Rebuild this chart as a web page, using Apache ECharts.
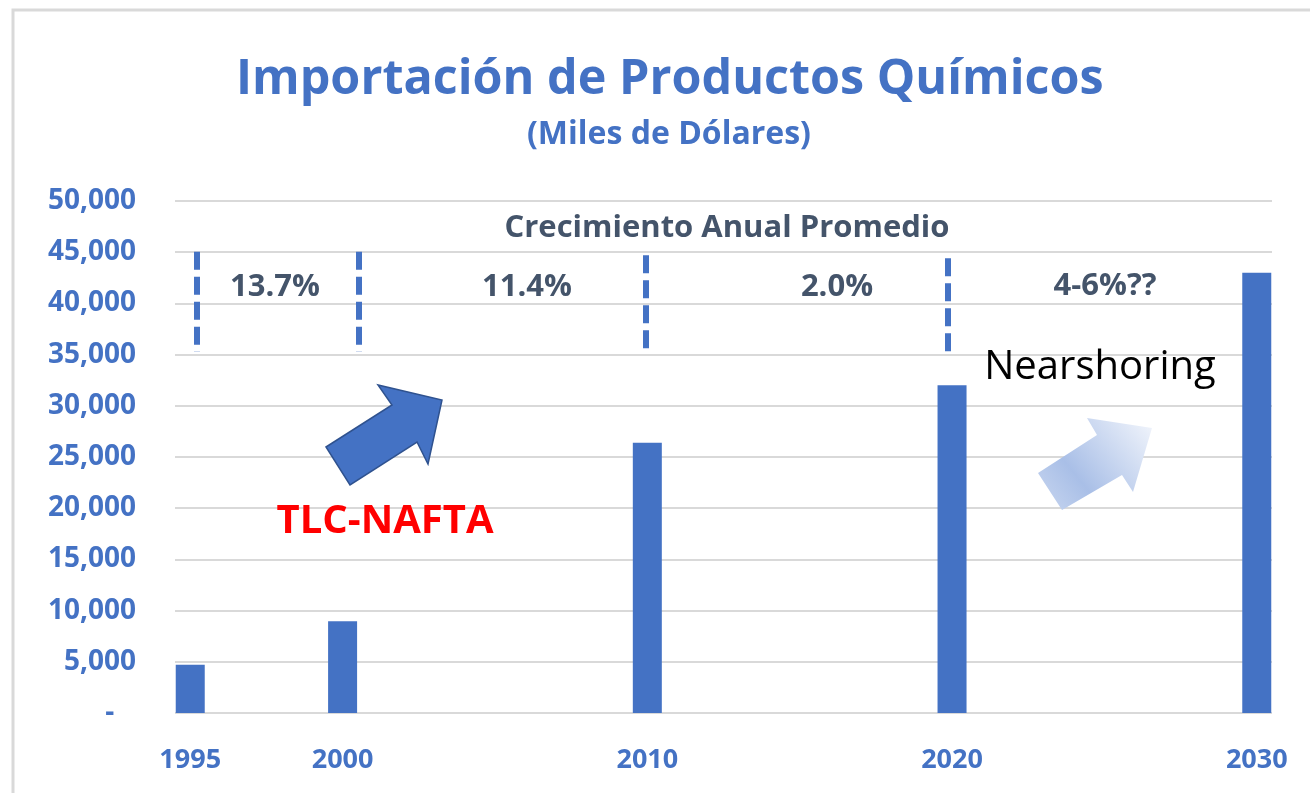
<!DOCTYPE html>
<html>
<head>
<meta charset="utf-8">
<script src="https://cdn.jsdelivr.net/npm/echarts@6/dist/echarts.min.js"></script>
<style>
  html, body { margin: 0; padding: 0; background: #fff; }
  #chart { width: 1310px; height: 793px; }
</style>
</head>
<body>
<div id="chart"></div>
<script>
// datos
const years = [1995, 2000, 2010, 2020, 2030]
const imports = [4700, 8950, 26400, 32000, 43000]
const yTicks = { min: 0, max: 50000, interval: 5000 }

// crecimiento anual promedio por periodo
const growthLabels = ['13.7%', '11.4%', '2.0%', '4-6%??']
const dividerYears = [1995.22, 2000.54, 2009.94, 2019.87]
const dividerTop = [45050, 45050, 44700, 44400]
const dividerBottom = [35250, 35250, 35150, 34700]

const blue = '#4472C4'
const slate = '#44546A'
const font = '"Open Sans", "Noto Sans", sans-serif'

let chart = echarts.init(document.getElementById('chart'))

let dividerLines = []
for (let i = 0; i < dividerYears.length; i++) {
  dividerLines.push([
    { coord: [dividerYears[i], dividerTop[i]] },
    { coord: [dividerYears[i], dividerBottom[i]] }
  ])
}

function label (text, x, y, size) {
  return {
    type: 'text',
    z: 100,
    x: x,
    y: y,
    style: {
      text: text,
      fill: slate,
      font: 'bold ' + size + 'px ' + font,
      textAlign: 'center',
      textVerticalAlign: 'middle'
    }
  }
}

let option = {
  backgroundColor: '#fff',
  animation: false,
  title: [{
    text: 'Importación de Productos Químicos',
    left: 236,
    top: 56,
    padding: 0,
    textStyle: { color: blue, fontSize: 48.5, fontWeight: 'bold', fontFamily: font }
  }, {
    text: '(Miles de Dólares)',
    left: 527,
    top: 119,
    padding: 0,
    textStyle: { color: blue, fontSize: 32, fontWeight: 'bold', fontFamily: font }
  }],
  grid: {
    left: 175,
    right: 38,
    top: 201,
    bottom: 80
  },
  xAxis: {
    type: 'value',
    min: 1994.5,
    max: 2030.5,
    splitLine: { show: false },
    axisLine: { show: false },
    axisTick: { show: false },
    axisLabel: {
      customValues: years,
      margin: 34,
      color: blue,
      fontSize: 27,
      fontWeight: 'bold',
      fontFamily: font,
      formatter: function (v) {
        return String(v)
      }
    }
  },
  yAxis: {
    type: 'value',
    min: yTicks.min,
    max: yTicks.max,
    interval: yTicks.interval,
    axisLine: { show: false },
    axisTick: { show: false },
    splitLine: { lineStyle: { color: '#D9D9D9', width: 2 } },
    axisLabel: {
      margin: 39,
      color: blue,
      fontSize: 28,
      fontWeight: 'bold',
      fontFamily: font,
      formatter: function (v) {
        return v === 0 ? '-   ' : v.toLocaleString('en-US')
      }
    }
  },
  series: [{
    type: 'bar',
    barWidth: 29,
    itemStyle: { color: blue },
    data: years.map((y, i) => [y, imports[i]]),
    markLine: {
      silent: true,
      symbol: 'none',
      label: { show: false },
      lineStyle: { color: blue, width: 6, type: [18, 7] },
      data: dividerLines
    }
  }],
  graphic: [
    {
      type: 'rect',
      z: -10,
      shape: { x: 13, y: 10, width: 1400, height: 900 },
      style: { fill: 'none', stroke: '#D9D9D9', lineWidth: 3 }
    },
    label('Crecimiento Anual Promedio', 727, 228, 31),
    label(growthLabels[0], 275, 287, 31),
    label(growthLabels[1], 527, 287, 31),
    label(growthLabels[2], 837, 287, 31),
    label(growthLabels[3], 1105, 286, 31),
    {
      // flecha TLC-NAFTA
      type: 'polygon',
      z: 100,
      shape: {
        points: [[326, 447], [392, 405], [378, 385], [442, 400], [428, 464], [417, 442], [350, 485]]
      },
      style: { fill: blue, stroke: '#2F528F', lineWidth: 1.5 }
    },
    {
      type: 'text',
      z: 100,
      x: 385,
      y: 522,
      style: {
        text: 'TLC-NAFTA',
        fill: '#FF0000',
        font: 'bold 40px ' + font,
        textAlign: 'center',
        textVerticalAlign: 'middle'
      }
    },
    {
      // flecha nearshoring
      type: 'polygon',
      z: 100,
      shape: {
        points: [[1038, 473], [1097, 435], [1087, 418], [1152, 428], [1133, 492], [1122, 475], [1062, 510]]
      },
      style: {
        fill: new echarts.graphic.LinearGradient(0, 1, 1, 0, [
          { offset: 0, color: '#C9D7F0' },
          { offset: 0.35, color: '#A9BFE7' },
          { offset: 1, color: '#F3F6FC' }
        ])
      }
    },
    {
      type: 'text',
      z: 100,
      x: 1100,
      y: 368,
      style: {
        text: 'Nearshoring',
        fill: '#000',
        font: '40px ' + font,
        textAlign: 'center',
        textVerticalAlign: 'middle'
      }
    }
  ]
}

chart.setOption(option)
</script>
</body>
</html>
